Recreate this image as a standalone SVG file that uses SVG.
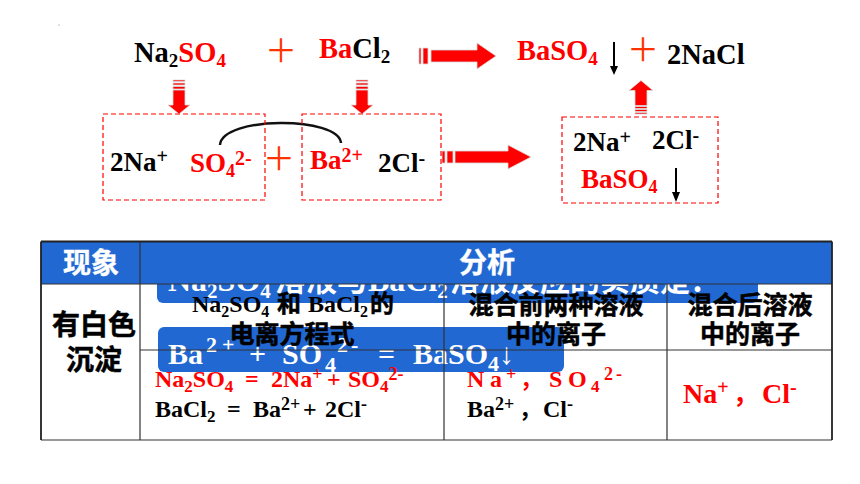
<svg xmlns="http://www.w3.org/2000/svg" width="860" height="484" viewBox="0 0 860 484">
<style>
text{font-family:"Liberation Serif","Noto Sans CJK SC",serif;font-weight:bold;fill:#000}
.r,.r tspan{fill:#f00}
.k{fill:#000}
.w,.w tspan{fill:#fff}
.t{font-size:28.500px}
.m{font-size:27px}
.c{font-family:"Noto Sans CJK SC","Noto Sans",sans-serif;stroke:#000;stroke-width:.5}
.cw{font-family:"Noto Sans CJK SC","Noto Sans",sans-serif;stroke:#fff;stroke-width:.4}
.h{font-size:25px;text-anchor:middle}
.p{font-family:"Noto Sans CJK SC",sans-serif;font-weight:400;font-size:32px;fill:#f30;text-anchor:middle}
.dash{fill:none;stroke:#f00;stroke-width:1.200;stroke-dasharray:5 3}
.arrow{fill:#f00;stroke:#d8d8d8;stroke-width:.8}
.thin{fill:none;stroke:#000;stroke-width:2}
.line{stroke:#333;stroke-width:1.200;fill:none}
.blue{fill:#2168d2}
</style>
<rect width="860" height="484" fill="#fff"/>
<circle cx="59" cy="25" r=".6" fill="#777"/>

<g id="connectors">
<g class="arrow">
<path d="M419 48h2v16h-2zM423 48h5v16h-5zM431 50h46v-7l19 13-19 13v-7h-46z" transform="translate(0 0)"/>
<path d="M442 151h3v12h-3zM447 151h6v12h-6zM455 151h53v-6l23 12-23 12v-6h-53z"/>
<path d="M173 80h12v1.500h-12zM173 83h12v2h-12zM173 86.500h12v2.500h-12zM173 90h12v15h5l-11 9-11-9h5z"/>
<path d="M356 80h12v1.500h-12zM356 83h12v2h-12zM356 86.500h12v2.500h-12zM356 90h12v15h5l-11 9-11-9h5z"/>
<path d="M635 114h12v-1.500h-12zM635 111.500h12v-2h-12zM635 108.500h12v-2h-12zM635 105.500h12v-15h6l-12-10-12 10h6z"/>
</g>
<path class="thin" d="M614 42V68"/><path d="M610 66h8l-4 9z"/>
<path class="thin" d="M676 168V194"/><path d="M672 192h8l-4 10z"/>
<path d="M220 145C222 116 339 116 341 143" fill="none" stroke="#111" stroke-width="2.500"/>
</g>

<g id="top-equation">
<text id="na2so4" class="t" x="134" y="62">Na<tspan y="67" font-size="19">2</tspan><tspan class="r" y="62">SO</tspan><tspan class="r" y="67" font-size="19">4</tspan></text>
<text id="plus-1" class="p" x="281" y="62">＋</text>
<text id="bacl2" class="t" x="319" y="58"><tspan class="r">Ba</tspan>Cl<tspan y="63" font-size="19">2</tspan></text>
<text id="baso4" class="t r" x="517" y="60">BaSO<tspan y="65" font-size="19">4</tspan></text>
<text id="plus-2" class="p" x="643" y="61">＋</text>
<text id="nacl" class="t" x="667" y="64">2NaCl</text>
</g>

<g id="ions-left">
<rect class="dash" x="103" y="114" width="162" height="86"/>
<text class="m" x="110" y="171">2Na<tspan y="163" font-size="20">+</tspan></text>
<text class="m r" x="190" y="172">SO<tspan y="177" font-size="18">4</tspan><tspan y="165" font-size="20">2-</tspan></text>
</g>
<text id="plus-3" class="p" x="279" y="170">＋</text>
<g id="ions-right">
<rect class="dash" x="302" y="114" width="139" height="86"/>
<text class="m r" x="310" y="169">Ba<tspan y="162" font-size="20">2+</tspan></text>
<text class="m" x="378" y="172">2Cl<tspan y="165" font-size="20">-</tspan></text>
</g>
<g id="ions-after">
<rect class="dash" x="562" y="117" width="156" height="86"/>
<text class="m" x="573" y="151">2Na<tspan y="144" font-size="20">+</tspan></text>
<text class="m" x="652" y="149">2Cl<tspan y="142" font-size="20">-</tspan></text>
<text class="m r" x="581" y="188">BaSO<tspan y="193" font-size="18">4</tspan></text>
</g>

<g id="table">
<rect class="blue" x="157" y="262" width="601" height="41" rx="6"/>
<text class="w" y="291" font-size="32"><tspan x="168">Na</tspan><tspan y="298" font-size="21">2</tspan><tspan y="291">SO</tspan><tspan y="298" font-size="21">4</tspan><tspan y="291" x="275" font-size="31" font-family="Noto Sans CJK SC">溶液与</tspan><tspan x="368" y="291">BaCl</tspan><tspan y="298" font-size="21">2</tspan><tspan x="450" y="291" font-size="30" font-family="Noto Sans CJK SC">溶液反应的实质是：</tspan></text>
<rect class="blue" x="158" y="327" width="406" height="45" rx="6"/>
<text class="w" y="364" font-size="30"><tspan x="168">Ba</tspan><tspan x="206" y="352" font-size="22">2</tspan><tspan x="222" y="352" font-size="22">+</tspan><tspan x="249" y="364">+</tspan><tspan x="282" y="364">SO</tspan><tspan x="325" y="372" font-size="22">4</tspan><tspan x="337" y="352" font-size="22">2</tspan><tspan x="351" y="352" font-size="22">-</tspan><tspan x="378" y="364">=</tspan><tspan x="413" y="364">BaSO</tspan><tspan y="371" font-size="22">4</tspan><tspan y="364" font-weight="400">↓</tspan></text>
<rect class="blue" x="41" y="242" width="791" height="42"/>
<path class="line" d="M41 284H832M140 242V440M444 284V440M667 284V440M140 350H832M41 440H832"/>
<path d="M41 241.500H832M832 241.500V440M41 241.500V440" fill="none" stroke="#222" stroke-width="1.800"/>

<text class="cw w" x="91" y="273" font-size="28" text-anchor="middle">现象</text>
<text class="cw w" x="487" y="273" font-size="28" text-anchor="middle">分析</text>
<text class="c" x="94" y="335" font-size="28" text-anchor="middle">有白色</text>
<text class="c" x="94" y="370" font-size="28" text-anchor="middle">沉淀</text>

<text y="312" font-size="24"><tspan x="192">Na</tspan><tspan y="317" font-size="16">2</tspan><tspan y="312">SO</tspan><tspan y="317" font-size="16">4</tspan><tspan x="277" y="312" class="c" stroke-width=".5">和</tspan><tspan x="308" y="312">BaCl</tspan><tspan y="317" font-size="16">2</tspan><tspan x="370" y="312" class="c">的</tspan></text>
<text class="c h" x="292" y="343">电离方程式</text>
<text class="c h" x="556" y="314">混合前两种溶液</text>
<text class="c h" x="556" y="343">中的离子</text>
<text class="c h" x="750" y="314">混合后溶液</text>
<text class="c h" x="750" y="343">中的离子</text>

<text class="r" y="387" font-size="24"><tspan x="155">Na</tspan><tspan y="392" font-size="17">2</tspan><tspan y="387">SO</tspan><tspan y="392" font-size="17">4</tspan><tspan x="245" y="387">=</tspan><tspan x="271" y="387">2Na</tspan><tspan y="380" font-size="18">+</tspan><tspan x="327" y="387">+</tspan><tspan x="348" y="387">SO</tspan><tspan y="392" font-size="17">4</tspan><tspan y="380" font-size="18">2-</tspan></text>
<text y="417" font-size="24"><tspan x="155">BaCl</tspan><tspan y="422" font-size="17">2</tspan><tspan x="227" y="417">=</tspan><tspan x="253" y="417">Ba</tspan><tspan y="410" font-size="18">2+</tspan><tspan x="303" y="417">+</tspan><tspan x="325" y="417">2Cl</tspan><tspan y="410" font-size="18">-</tspan></text>

<text class="r" y="387" font-size="24"><tspan x="467 490">Na</tspan><tspan x="506" y="380" font-size="18">+</tspan><tspan x="520" y="387" font-family="Noto Sans CJK SC" font-size="22">，</tspan><tspan x="549 568" y="387">SO</tspan><tspan x="591" y="392" font-size="17">4</tspan><tspan x="604 616" y="380" font-size="18">2-</tspan></text>
<text y="417" font-size="24"><tspan x="467">Ba</tspan><tspan y="410" font-size="18">2+</tspan><tspan x="519" y="417" font-family="Noto Sans CJK SC" font-size="22">，</tspan><tspan x="543" y="417">Cl</tspan><tspan y="410" font-size="18">-</tspan></text>
<text class="r" y="403" font-size="28"><tspan x="683">Na</tspan><tspan y="394" font-size="20">+</tspan><tspan x="733" y="403" font-family="Noto Sans CJK SC" font-size="25">，</tspan><tspan x="762" y="403">Cl</tspan><tspan y="394" font-size="20">-</tspan></text>
</g>
</svg>
